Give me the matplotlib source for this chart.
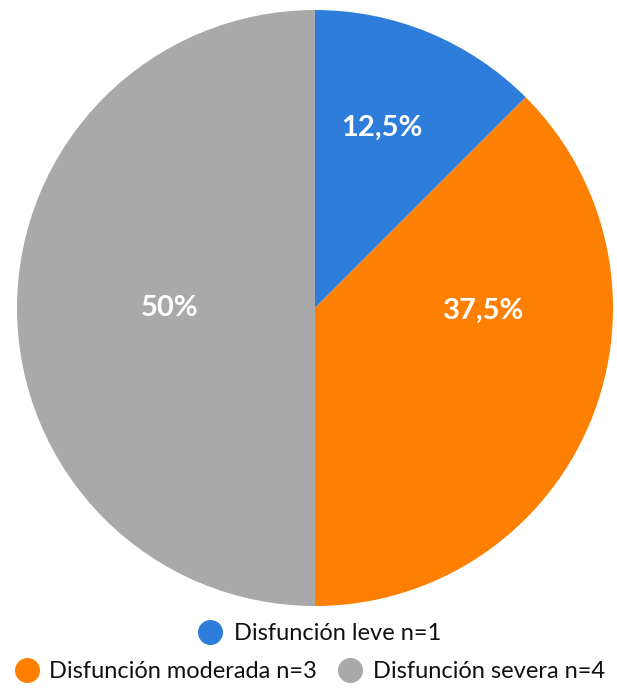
import matplotlib.pyplot as plt
from matplotlib.lines import Line2D
import numpy as np

plt.rcParams["font.family"] = ["Lato", "DejaVu Sans"]

categories = ["Disfunción leve", "Disfunción moderada", "Disfunción severa"]
counts = [1, 3, 4]
pct_labels = ["12,5%", "37,5%", "50%"]
colors = ["#2e7ddb", "#ff8000", "#a9a9a9"]

# label placement inside slices (angle in degrees, fraction of radius)
label_pos = [(69.6, 0.645), (-1.0, 0.567), (180.0, 0.487)]

W, H = 617, 692
fig = plt.figure(figsize=(W / 100, H / 100), dpi=100)
cx, cy, r = 315, 308, 298
ax = fig.add_axes([(cx - r) / W, (H - cy - r) / H, 2 * r / W, 2 * r / H])

ax.pie(counts, colors=colors, startangle=90, counterclock=False,
       wedgeprops=dict(linewidth=0), radius=1)
ax.set_xlim(-1, 1)
ax.set_ylim(-1, 1)
ax.set_aspect("equal")

for lab, (ang, d) in zip(pct_labels, label_pos):
    a = np.deg2rad(ang)
    ax.text(d * np.cos(a), d * np.sin(a), lab, ha="center", va="center",
            color="white", fontsize=21, fontweight="bold")

handles = [Line2D([], [], marker="o", linestyle="", markersize=17,
                  markerfacecolor=c, markeredgecolor=c) for c in colors]
names = [f"{c} n={n}" for c, n in zip(categories, counts)]

leg1 = fig.legend(handles[:1], names[:1], loc="center",
                  bbox_to_anchor=(320 / W, 1 - 634 / H), frameon=False,
                  fontsize=17, handletextpad=0.5, borderpad=0, handlelength=1.0)
leg2 = fig.legend(handles[1:], names[1:], loc="center", ncol=2,
                  bbox_to_anchor=(310 / W, 1 - 672 / H), frameon=False,
                  fontsize=17, handletextpad=0.45, columnspacing=0.9,
                  borderpad=0, handlelength=1.0)
for leg in (leg1, leg2):
    for t in leg.get_texts():
        t.set_color("#111111")

fig.savefig("out.png", dpi=100)
